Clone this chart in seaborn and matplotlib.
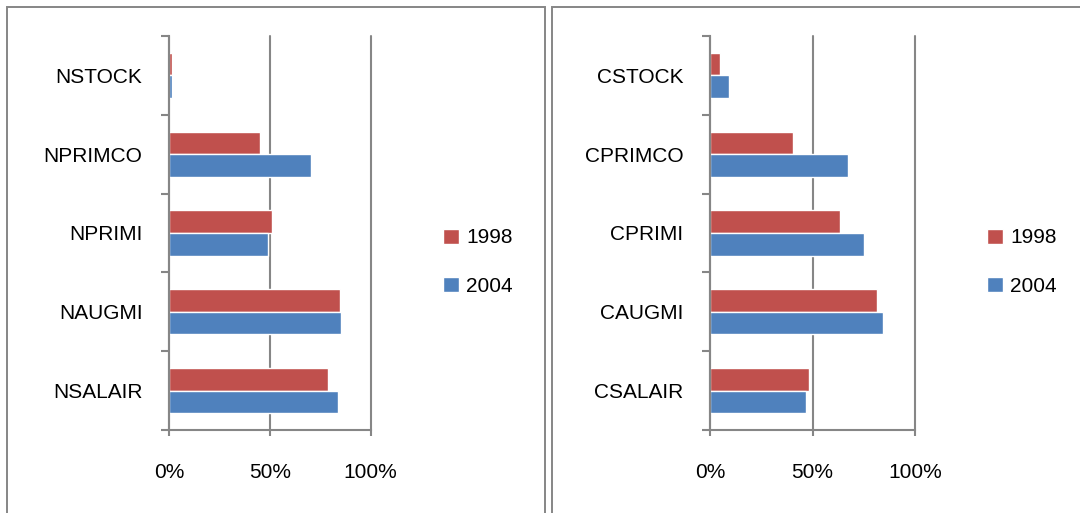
import pandas as pd
import matplotlib
matplotlib.use("Agg")
import matplotlib.pyplot as plt
import seaborn as sns
from matplotlib.patches import Rectangle, Patch
from matplotlib.ticker import PercentFormatter

# data (shares)
years = ["1998", "2004"]
left_cats = ["NSTOCK", "NPRIMCO", "NPRIMI", "NAUGMI", "NSALAIR"]
left_1998 = [0.015, 0.45, 0.51, 0.85, 0.79]
left_2004 = [0.014, 0.705, 0.49, 0.855, 0.84]
right_cats = ["CSTOCK", "CPRIMCO", "CPRIMI", "CAUGMI", "CSALAIR"]
right_1998 = [0.05, 0.405, 0.633, 0.815, 0.481]
right_2004 = [0.093, 0.673, 0.753, 0.845, 0.47]
xticks = [0, 0.5, 1.0]

red = "#C0504D"
blue = "#4F81BD"
grey = "#868686"


def long_df(cats, v98, v04):
    return pd.DataFrame({
        "cat": cats * 2,
        "year": ["1998"] * len(cats) + ["2004"] * len(cats),
        "val": v98 + v04,
    })


sns.set_style("white")
plt.rcParams["font.family"] = ["Liberation Sans", "DejaVu Sans"]
plt.rcParams["text.color"] = "black"
plt.rcParams["xtick.labelcolor"] = "black"
plt.rcParams["ytick.labelcolor"] = "black"

W, H = 1080, 513
fig = plt.figure(figsize=(W / 100, H / 100), dpi=100)

# outer chart borders (Excel chart areas)
fig.patches.append(Rectangle((7 / W, -0.05), 538 / W, 1.05 - 7.5 / H,
                             transform=fig.transFigure, fill=False,
                             edgecolor=grey, lw=1.4))
fig.patches.append(Rectangle((551.5 / W, -0.05), 600 / W, 1.05 - 7.5 / H,
                             transform=fig.transFigure, fill=False,
                             edgecolor=grey, lw=1.4))

panels = [
    (left_cats, left_1998, left_2004, 169, 201.7, 443),
    (right_cats, right_1998, right_2004, 710, 205, 987),
]

for cats, v98, v04, x0, w, leg_x in panels:
    ax = fig.add_axes([x0 / W, 1 - 430 / H, w / W, 394 / H])
    df = long_df(cats, v98, v04)
    sns.barplot(data=df, x="val", y="cat", hue="year", order=cats,
                hue_order=years, palette=[red, blue], orient="h",
                width=0.575, saturation=1, ax=ax, legend=False)
    ax.set_xlim(0, 1)
    ax.set_ylim(len(cats) - 0.5, -0.5)
    ax.set_xticks(xticks)
    ax.xaxis.set_major_formatter(PercentFormatter(1.0, decimals=0))
    ax.set_xlabel("")
    ax.set_ylabel("")
    ax.grid(axis="x", color=grey, lw=1.5)
    for gl in ax.get_xgridlines():
        gl.set_clip_on(False)
    ax.set_axisbelow(True)
    for s in ["top", "right"]:
        ax.spines[s].set_visible(False)
    for s in ["left", "bottom"]:
        ax.spines[s].set_color(grey)
        ax.spines[s].set_linewidth(1.5)
    # category boundary ticks
    ax.set_yticks([i - 0.5 for i in range(len(cats) + 1)], minor=True)
    ax.tick_params(axis="y", which="minor", left=True, length=6,
                   color=grey, width=1.5)
    ax.tick_params(axis="y", which="major", length=0, pad=19,
                   labelsize=15)
    ax.tick_params(axis="x", which="major", bottom=True, length=4,
                   color=grey, width=1.5, pad=20, labelsize=15)

    handles = [Patch(facecolor=red), Patch(facecolor=blue)]
    fig.legend(handles, years, loc="center left", frameon=False,
               bbox_to_anchor=(leg_x / W, 1 - 262 / H),
               bbox_transform=fig.transFigure, fontsize=15,
               handlelength=0.75, handleheight=0.75, handletextpad=0.35,
               labelspacing=1.4, borderpad=0, borderaxespad=0)

fig.savefig("out.png", dpi=100)
